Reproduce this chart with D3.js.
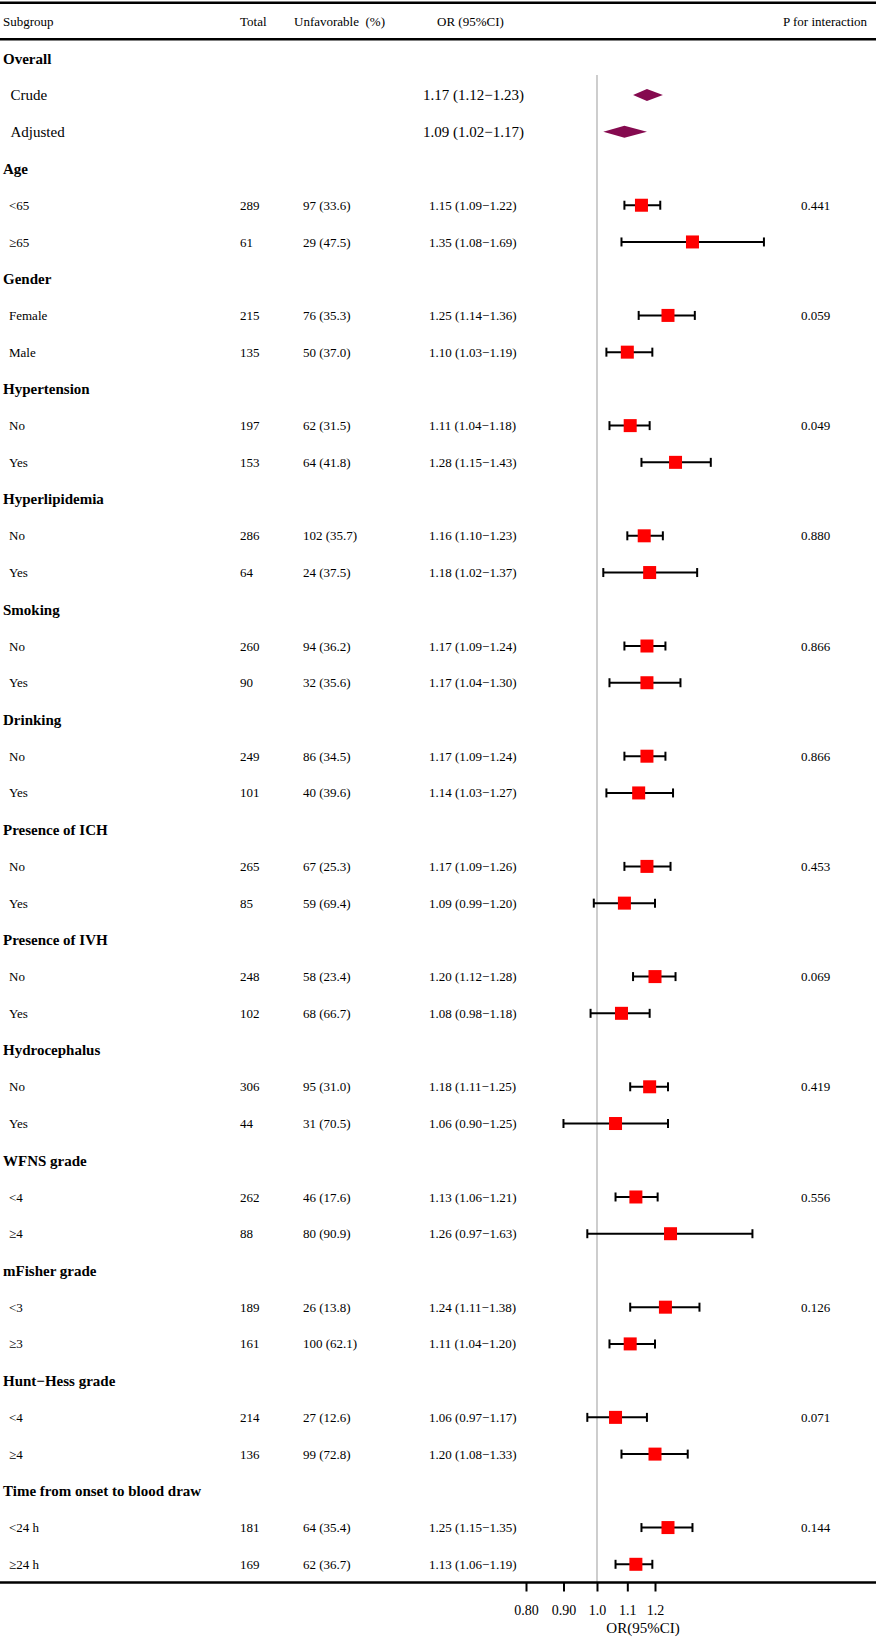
<!DOCTYPE html>
<html>
<head>
<meta charset="utf-8">
<script src="https://cdnjs.cloudflare.com/ajax/libs/d3/7.8.5/d3.min.js"></script>
<style>
  body { margin: 0; background: #fff; }
  text { font-family: "Liberation Serif", "Times New Roman", serif; fill: #000; }
</style>
</head>
<body>
<div id="forest-container"></div>
<script>
// ---- data ----
var overallLabels = ["Crude", "Adjusted"];
var overallOR = [1.17, 1.09];
var overallLo = [1.12, 1.02];
var overallHi = [1.23, 1.17];

var groupNames = ["Age", "Gender", "Hypertension", "Hyperlipidemia", "Smoking", "Drinking",
    "Presence of ICH", "Presence of IVH", "Hydrocephalus", "WFNS grade", "mFisher grade",
    "Hunt\u2212Hess grade", "Time from onset to blood draw"];
var pInteraction = ["0.441", "0.059", "0.049", "0.880", "0.866", "0.866", "0.453",
    "0.069", "0.419", "0.556", "0.126", "0.071", "0.144"];

var subLabels = ["<65", "\u226565", "Female", "Male", "No", "Yes", "No", "Yes", "No", "Yes",
    "No", "Yes", "No", "Yes", "No", "Yes", "No", "Yes", "<4", "\u22654", "<3", "\u22653",
    "<4", "\u22654", "<24 h", "\u226524 h"];
var totals = [289, 61, 215, 135, 197, 153, 286, 64, 260, 90, 249, 101, 265, 85, 248, 102,
    306, 44, 262, 88, 189, 161, 214, 136, 181, 169];
var unfavN = [97, 29, 76, 50, 62, 64, 102, 24, 94, 32, 86, 40, 67, 59, 58, 68, 95, 31, 46, 80,
    26, 100, 27, 99, 64, 62];
var unfavPct = [33.6, 47.5, 35.3, 37.0, 31.5, 41.8, 35.7, 37.5, 36.2, 35.6, 34.5, 39.6, 25.3,
    69.4, 23.4, 66.7, 31.0, 70.5, 17.6, 90.9, 13.8, 62.1, 12.6, 72.8, 35.4, 36.7];
var orVal = [1.15, 1.35, 1.25, 1.10, 1.11, 1.28, 1.16, 1.18, 1.17, 1.17, 1.17, 1.14, 1.17, 1.09,
    1.20, 1.08, 1.18, 1.06, 1.13, 1.26, 1.24, 1.11, 1.06, 1.20, 1.25, 1.13];
var ciLo = [1.09, 1.08, 1.14, 1.03, 1.04, 1.15, 1.10, 1.02, 1.09, 1.04, 1.09, 1.03, 1.09, 0.99,
    1.12, 0.98, 1.11, 0.90, 1.06, 0.97, 1.11, 1.04, 0.97, 1.08, 1.15, 1.06];
var ciHi = [1.22, 1.69, 1.36, 1.19, 1.18, 1.43, 1.23, 1.37, 1.24, 1.30, 1.24, 1.27, 1.26, 1.20,
    1.28, 1.18, 1.25, 1.25, 1.21, 1.63, 1.38, 1.20, 1.17, 1.33, 1.35, 1.19];

var tickVals = [0.8, 0.9, 1.0, 1.1, 1.2];
var tickLabels = ["0.80", "0.90", "1.0", "1.1", "1.2"];

// ---- layout ----
var width = 876, height = 1637;
var nRows = 3 + groupNames.length * 3;

var svg = d3.select("#forest-container")
    .append("svg")
    .attr("width", width)
    .attr("height", height)
    .style("display", "block");

var yScale = d3.scaleLinear().domain([0, nRows - 1]).range([58.3, 1564.3]);
var xScale = d3.scaleLog().domain([0.8, 1.2]).range([526, 655]);
var axisY = 1582.5;

function ciText(o, l, h) {
    return o.toFixed(2) + " (" + l.toFixed(2) + "\u2212" + h.toFixed(2) + ")";
}

// build row table from the arrays
var subRows = subLabels.map(function(lab, i) {
    var g = Math.floor(i / 2);
    return {
        label: lab,
        row: 3 + g * 3 + 1 + (i % 2),
        total: totals[i],
        unfav: unfavN[i] + " (" + unfavPct[i].toFixed(1) + ")",
        or: orVal[i], lo: ciLo[i], hi: ciHi[i],
        p: (i % 2 === 0) ? pInteraction[g] : ""
    };
});

// horizontal rules
svg.append("line").attr("x1", 0).attr("x2", width).attr("y1", 2.7).attr("y2", 2.7)
    .attr("stroke", "#000").attr("stroke-width", 2.5);
svg.append("line").attr("x1", 0).attr("x2", width).attr("y1", 39.3).attr("y2", 39.3)
    .attr("stroke", "#000").attr("stroke-width", 2.5);

// header
var header = svg.append("g").attr("font-size", 13);
header.append("text").attr("x", 3).attr("y", 21.7).attr("dy", "0.35em").text("Subgroup");
header.append("text").attr("x", 240).attr("y", 21.7).attr("dy", "0.35em").text("Total");
header.append("text").attr("x", 294).attr("y", 21.7).attr("dy", "0.35em")
    .style("white-space", "pre").text("Unfavorable  (%)");
header.append("text").attr("x", 437).attr("y", 21.7).attr("dy", "0.35em").text("OR (95%CI)");
header.append("text").attr("x", 867).attr("y", 21.7).attr("dy", "0.35em")
    .attr("text-anchor", "end").text("P for interaction");

// reference line at OR = 1
svg.append("line")
    .attr("x1", xScale(1)).attr("x2", xScale(1))
    .attr("y1", 75).attr("y2", axisY)
    .attr("stroke", "#bdbdbd").attr("stroke-width", 1.5);

// group titles (bold)
var titles = ["Overall"].concat(groupNames);
svg.append("g").selectAll("text")
    .data(titles)
    .enter().append("text")
    .attr("x", 3)
    .attr("y", function(d, i) { return yScale(i === 0 ? 0 : 3 + (i - 1) * 3); })
    .attr("dy", "0.35em")
    .attr("font-size", 15)
    .attr("font-weight", "bold")
    .text(function(d) { return d; });

// overall rows: crude / adjusted
var overall = svg.append("g");
overall.selectAll(".olab")
    .data(overallLabels)
    .enter().append("text")
    .attr("x", 10.5)
    .attr("y", function(d, i) { return yScale(1 + i); })
    .attr("dy", "0.35em")
    .attr("font-size", 15)
    .text(function(d) { return d; });

overall.selectAll(".oci")
    .data(overallLabels)
    .enter().append("text")
    .attr("x", 423)
    .attr("y", function(d, i) { return yScale(1 + i); })
    .attr("dy", "0.35em")
    .attr("font-size", 15)
    .text(function(d, i) { return ciText(overallOR[i], overallLo[i], overallHi[i]); });

overall.selectAll("path")
    .data(overallLabels)
    .enter().append("path")
    .attr("fill", "#850a4f")
    .attr("d", function(d, i) {
        var yc = yScale(1 + i), h = 6;
        var xl = xScale(overallLo[i]), xm = xScale(overallOR[i]), xr = xScale(overallHi[i]);
        return "M" + xl + "," + yc + "L" + xm + "," + (yc - h) + "L" + xr + "," + yc +
            "L" + xm + "," + (yc + h) + "Z";
    });

// subgroup rows text
var rows = svg.append("g").attr("font-size", 13)
    .selectAll("g")
    .data(subRows)
    .enter().append("g")
    .attr("transform", function(d) { return "translate(0," + yScale(d.row) + ")"; });

rows.append("text").attr("x", 9).attr("dy", "0.35em").text(function(d) { return d.label; });
rows.append("text").attr("x", 240).attr("dy", "0.35em").text(function(d) { return d.total; });
rows.append("text").attr("x", 303).attr("dy", "0.35em").text(function(d) { return d.unfav; });
rows.append("text").attr("x", 429).attr("dy", "0.35em")
    .text(function(d) { return ciText(d.or, d.lo, d.hi); });
rows.append("text").attr("x", 801).attr("dy", "0.35em").text(function(d) { return d.p; });

// error bars with caps
rows.append("line")
    .attr("x1", function(d) { return xScale(d.lo); })
    .attr("x2", function(d) { return xScale(d.hi); })
    .attr("stroke", "#000").attr("stroke-width", 2);
rows.append("line")
    .attr("x1", function(d) { return xScale(d.lo); })
    .attr("x2", function(d) { return xScale(d.lo); })
    .attr("y1", -4.5).attr("y2", 4.5)
    .attr("stroke", "#000").attr("stroke-width", 2);
rows.append("line")
    .attr("x1", function(d) { return xScale(d.hi); })
    .attr("x2", function(d) { return xScale(d.hi); })
    .attr("y1", -4.5).attr("y2", 4.5)
    .attr("stroke", "#000").attr("stroke-width", 2);

// point estimate squares
rows.append("rect")
    .attr("x", function(d) { return xScale(d.or) - 6.5; })
    .attr("y", -6.5)
    .attr("width", 13)
    .attr("height", 13)
    .attr("fill", "#ff0000");

// bottom rule + axis
svg.append("line").attr("x1", 0).attr("x2", width).attr("y1", axisY).attr("y2", axisY)
    .attr("stroke", "#000").attr("stroke-width", 2.5);

var xAxis = d3.axisBottom(xScale)
    .tickValues(tickVals)
    .tickFormat(function(d, i) { return tickLabels[i]; })
    .tickSize(9)
    .tickPadding(14);

var ax = svg.append("g")
    .attr("transform", "translate(0," + axisY + ")")
    .call(xAxis);
ax.select(".domain").remove();
ax.selectAll(".tick line").attr("stroke-width", 2);
ax.selectAll(".tick text")
    .attr("font-family", "'Liberation Serif', 'Times New Roman', serif")
    .attr("font-size", 14);

svg.append("text")
    .attr("x", 643)
    .attr("y", 1628)
    .attr("dy", "0.35em")
    .attr("text-anchor", "middle")
    .attr("font-size", 15)
    .text("OR(95%CI)");
</script>
</body>
</html>
